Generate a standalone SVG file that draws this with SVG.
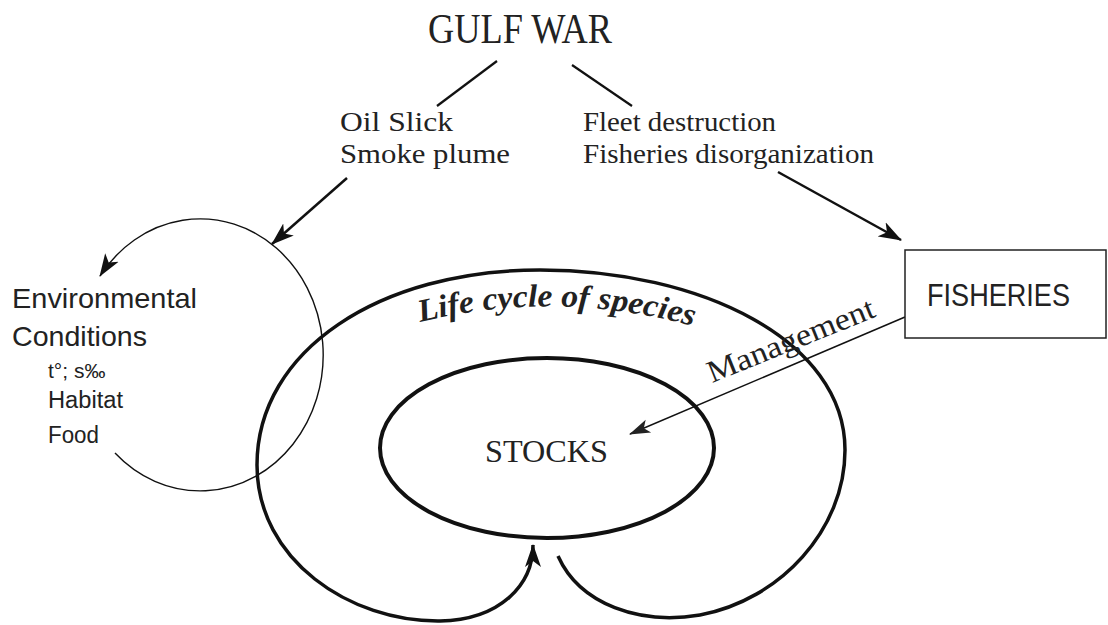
<svg xmlns="http://www.w3.org/2000/svg" width="1108" height="625" viewBox="0 0 1108 625">
<style>
.serif{font-family:"Liberation Serif","Times New Roman",serif;fill:#222}
.sans{font-family:"Liberation Sans",Arial,sans-serif;fill:#222}
.ln{fill:none;stroke:#111}
</style>
<defs>
<marker id="ah" markerUnits="userSpaceOnUse" markerWidth="24" markerHeight="18" refX="22" refY="9" orient="auto">
<path d="M0,1 L23,9 L0,17 L6,9 Z" fill="#111"/>
</marker>
<marker id="ahs" markerUnits="userSpaceOnUse" markerWidth="22" markerHeight="16" refX="20" refY="8" orient="auto">
<path d="M0,1 L21,8 L0,15 L5,8 Z" fill="#222"/>
</marker>
<path id="lcpath" d="M 420,322 Q 560,288 700,328"/>
</defs>
<rect width="1108" height="625" fill="#fff"/>

<g id="connectors">
<line class="ln" x1="497" y1="61" x2="437" y2="106" stroke-width="2.2"/>
<line class="ln" x1="572" y1="65" x2="632" y2="106" stroke-width="2.2"/>
<line class="ln" x1="347" y1="178" x2="272" y2="244" stroke-width="2.5" marker-end="url(#ah)"/>
<line class="ln" x1="778" y1="172" x2="901" y2="240" stroke-width="2.5" marker-end="url(#ah)"/>
<path class="ln" d="M 115,453 A 123 136 0 1 0 100,276" stroke-width="1.4" marker-end="url(#ah)"/>
<line class="ln" x1="905" y1="317" x2="630" y2="434" stroke-width="1.5" marker-end="url(#ahs)"/>
</g>

<g id="gulf-war">
<text class="serif" x="428" y="43" font-size="43" textLength="184" lengthAdjust="spacingAndGlyphs">GULF WAR</text>
</g>

<g id="oil-slick">
<text class="serif" x="340" y="131" font-size="27" textLength="113" lengthAdjust="spacingAndGlyphs">Oil Slick</text>
<text class="serif" x="340" y="163" font-size="27" textLength="170" lengthAdjust="spacingAndGlyphs">Smoke plume</text>
</g>

<g id="fleet">
<text class="serif" x="583" y="131" font-size="27" textLength="193" lengthAdjust="spacingAndGlyphs">Fleet destruction</text>
<text class="serif" x="583" y="163" font-size="27" textLength="291" lengthAdjust="spacingAndGlyphs">Fisheries disorganization</text>
</g>

<g id="environment">
<text class="sans" x="12" y="308" font-size="28" textLength="185" lengthAdjust="spacingAndGlyphs">Environmental</text>
<text class="sans" x="12" y="346" font-size="28" textLength="135" lengthAdjust="spacingAndGlyphs">Conditions</text>
<text class="sans" x="48" y="378" font-size="21">t°; s‰</text>
<text class="sans" x="48" y="408" font-size="23" textLength="75" lengthAdjust="spacingAndGlyphs">Habitat</text>
<text class="sans" x="48" y="443" font-size="23" textLength="51" lengthAdjust="spacingAndGlyphs">Food</text>
</g>

<g id="fisheries">
<rect x="905" y="250" width="201" height="88" fill="#fff" stroke="#222" stroke-width="1.5"/>
<text class="sans" x="927" y="306" font-size="32" textLength="143" lengthAdjust="spacingAndGlyphs">FISHERIES</text>
</g>

<g id="life-cycle">
<path class="ln" d="M 558,556 C 580,605 640,625 700,615 C 780,600 845,530 845,450 C 845,340 700,270 540,270 C 380,270 257,350 257,465 C 257,560 350,622 440,621 C 500,620 533,585 533,545" stroke-width="3.5" marker-end="url(#ah)"/>
<text class="serif" font-size="32" font-weight="bold" font-style="italic" fill="#111"><textPath href="#lcpath" textLength="276" lengthAdjust="spacingAndGlyphs">Life cycle of species</textPath></text>
</g>

<g id="stocks">
<ellipse class="ln" cx="547" cy="448" rx="167" ry="90" stroke-width="4"/>
<text class="serif" x="485" y="462" font-size="32" fill="#444" textLength="123" lengthAdjust="spacingAndGlyphs">STOCKS</text>
</g>

<g id="management">
<text class="serif" font-size="31" fill="#555" transform="translate(712,383) rotate(-22)" textLength="178" lengthAdjust="spacingAndGlyphs">Management</text>
</g>
</svg>
